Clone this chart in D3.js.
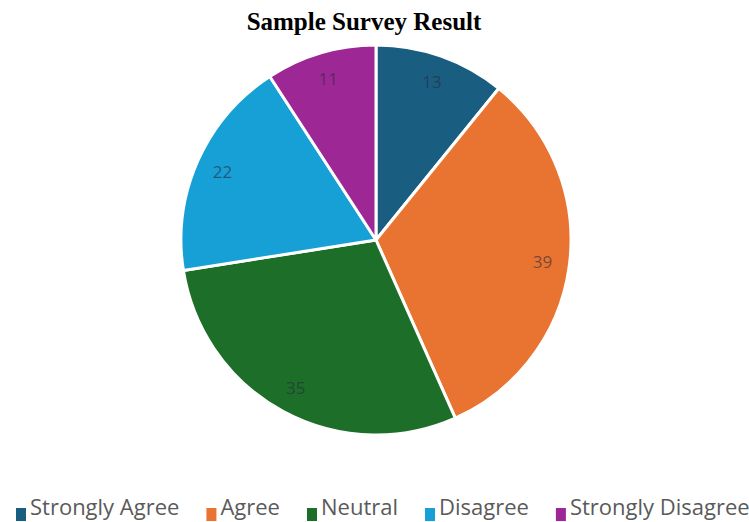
<!DOCTYPE html>
<html>
<head>
<meta charset="utf-8">
<script src="https://cdn.jsdelivr.net/npm/d3@7"></script>
<style>
  body { margin: 0; background: #fff; }
  svg { display: block; }
</style>
</head>
<body>
<svg id="chart" width="749" height="522"></svg>
<script>
const categories = ["Strongly Agree", "Agree", "Neutral", "Disagree", "Strongly Disagree"];
const values = [13, 39, 35, 22, 11];
const colors = ["#195d80", "#e97431", "#1c6e28", "#16a0d6", "#9d2795"];
const title = "Sample Survey Result";

const svg = d3.select("#chart");
const cx = 376, cy = 240, R = 195;

svg.append("text")
  .attr("x", 364).attr("y", 30)
  .attr("text-anchor", "middle")
  .attr("font-family", "Liberation Serif, Times New Roman, serif")
  .attr("font-weight", "bold")
  .attr("font-size", 25)
  .attr("fill", "#000")
  .text(title);

const data = categories.map((c, i) => ({ cat: c, value: values[i], color: colors[i] }));
const pie = d3.pie().value(d => d.value).sort(null);
const arcs = pie(data);
const arc = d3.arc().innerRadius(0).outerRadius(R);
const labelArc = d3.arc().innerRadius(168).outerRadius(168);

const g = svg.append("g").attr("transform", `translate(${cx},${cy})`);
g.selectAll("path.slice").data(arcs).join("path")
  .attr("class", "slice")
  .attr("d", arc)
  .attr("fill", d => d.data.color)
  .attr("stroke", "#fff")
  .attr("stroke-width", 3)
  .attr("stroke-linejoin", "round");

g.selectAll("text.val").data(arcs).join("text")
  .attr("class", "val")
  .attr("transform", d => `translate(${labelArc.centroid(d)})`)
  .attr("text-anchor", "middle")
  .attr("dy", "0.35em")
  .attr("font-family", "Open Sans, sans-serif")
  .attr("font-size", 17)
  .attr("fill", "#2a2a3a")
  .attr("fill-opacity", 0.6)
  .text(d => d.data.value);

// legend along the bottom
const legend = svg.append("g").attr("transform", "translate(0,515)");
let x = 16;
data.forEach((d) => {
  const item = legend.append("g").attr("transform", `translate(${x},0)`);
  item.append("rect").attr("x", 0).attr("y", -7).attr("width", 10).attr("height", 13).attr("fill", d.color);
  const t = item.append("text").attr("x", 14).attr("y", 0)
    .attr("font-family", "Open Sans, sans-serif")
    .attr("font-size", 22)
    .attr("fill", "#5a5a5a")
    .text(d.cat);
  x += 14 + t.node().getComputedTextLength() + 27;
});
</script>
</body>
</html>
